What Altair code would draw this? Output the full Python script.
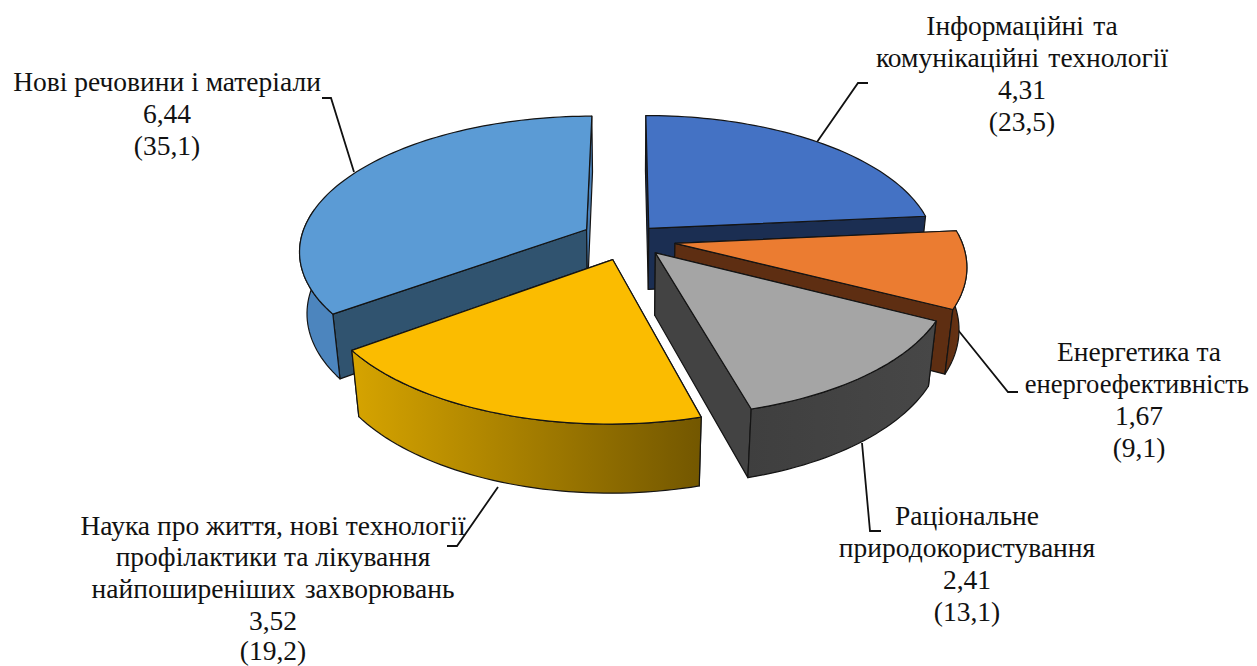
import math
import altair as alt

# ---- chart values ----
names = ["Інформаційні та комунікаційні технології", "Енергетика та енергоефективність",
         "Раціональне природокористування",
         "Наука про життя, нові технології профілактики та лікування найпоширеніших захворювань",
         "Нові речовини і матеріали"]
values = [4.31, 1.67, 2.41, 3.52, 6.44]
percents = ["23,5", "9,1", "13,1", "19,2", "35,1"]

label_lines = [
    ["Інформаційні\u00a0\u200aта", "комунікаційні\u00a0\u200aтехнології", "4,31", "(23,5)"],
    ["Енергетика та", "енергоефективність", "1,67", "(9,1)"],
    ["Раціональне", "природокористування", "2,41", "(13,1)"],
    ["Наука про життя, нові технології", "профілактики та лікування", "найпоширеніших\u00a0\u200aзахворювань", "3,52", "(19,2)"],
    ["Нові речовини і матеріали", "6,44", "(35,1)"],
]
label_cx = [1022, 1139, 967, 273, 167]
label_base = [[35, 67, 99, 131], [361, 393, 425, 457], [525, 557, 589, 621],
              [535, 566, 598, 630, 660], [91, 123, 155]]
leaders = [
    [(817, 142), (858, 83), (868, 83)],
    [(958, 330), (1008, 392), (1018, 392)],
    [(862, 443), (870, 531), (881, 531)],
    [(498, 487), (457, 546), (447, 546)],
    [(354, 172), (331, 98), (322, 98)],
]

# ---- styles ----
top_col = ["#4472C4", "#EB7C31", "#A5A5A5", "#FBBC00", "#5B9BD5"]
start_face = ["#1B2E52", "#5E2E12", "#434343", "#665000", "#30536F"]
end_face = ["#1B2E52", "#5E2E12", "#434343", "#665000", "#4A80B8"]
side_col = [["#1B2E52", "#1B2E52"], ["#5E2E12", "#6A3414"], ["#3F3F3F", "#474747"],
            ["#D6A400", "#735700"], ["#4C85BE", "#4C85BE"]]
explode = [0.12, 0.17, 0.16, 0.16, 0.16]
nudge = [(0, 0), (1, -1), (0, -4), (2, -1), (1, -1)]
paint = [0, 4, 1, 2, 3]
front_from, front_to = math.radians(85), math.radians(280)

CX, CY, A, B, D, K, M = 626, 240, 286, 133, 63, 0.15, 0.023
W, H = 1241, 658
FONT = 27.5
# the longest right-hand line is fitted inside the page's right margin
fitted = {"енергоефективність": (1136.8, 26.6)}


def proj(X, Y, Z, n):
    w = 1 - K * Y - M * Z
    return [CX + A * X / w + n[0] - 8, CY + (B * Y - D * Z) / w + n[1] - 8]


total = sum(values)
stroke = "#141414"
proj_spec = dict(type="identity", scale=1, translate=[0, 0])


def poly(ring, fill):
    ring = ring + [ring[0]]
    feat = {"type": "Feature", "properties": {},
            "geometry": {"type": "Polygon", "coordinates": [ring]}}
    return alt.Chart(alt.Data(values=[feat])).mark_geoshape(
        fill=fill, stroke=stroke, strokeWidth=1.2, strokeJoin="round"
    ).project(**proj_spec)


layers = []
starts = []
acc = 0.0
for v in values:
    starts.append(acc)
    acc += v

for i in paint:
    t0 = starts[i] / total * 2 * math.pi
    t1 = (starts[i] + values[i]) / total * 2 * math.pi
    mid = (t0 + t1) / 2
    ox, oy = explode[i] * math.sin(mid), -explode[i] * math.cos(mid)
    n = nudge[i]
    steps = max(8, int((t1 - t0) / math.radians(1.5)))
    thetas = [t0 + (t1 - t0) * s / steps for s in range(steps + 1)]
    rim = [(ox + math.sin(t), oy - math.cos(t)) for t in thetas]
    top = [proj(x, y, 0, n) for x, y in rim]
    bot = [proj(x, y, -1, n) for x, y in rim]
    a0, a1 = proj(ox, oy, 0, n), proj(ox, oy, -1, n)
    layers.append(poly([a0, top[0], bot[0], a1], start_face[i]))
    layers.append(poly([a0, top[-1], bot[-1], a1], end_face[i]))
    keep = [j for j, t in enumerate(thetas) if front_from <= t <= front_to]
    if len(keep) > 1:
        grad = alt.LinearGradient(
            gradient="linear", x1=0, x2=1, y1=0, y2=0,
            stops=[alt.GradientStop(color=side_col[i][0], offset=0),
                   alt.GradientStop(color=side_col[i][1], offset=1)])
        layers.append(poly([top[j] for j in keep] + [bot[j] for j in keep[::-1]], grad))
    layers.append(poly([a0] + top, top_col[i]))

xs = alt.X("x:Q", scale=alt.Scale(domain=[0, W], range=[0, W]), axis=None)
ys = alt.Y("y:Q", scale=alt.Scale(domain=[0, H], range=[0, H]), axis=None)

line_rows = []
for k, pts in enumerate(leaders):
    for j, (x, y) in enumerate(pts):
        line_rows.append({"x": x - 8, "y": y - 8, "k": k, "j": j})
lines = alt.Chart(alt.Data(values=line_rows)).mark_line(
    color="#111111", strokeWidth=1.8, interpolate="linear"
).encode(x=xs, y=ys, detail="k:N", order="j:O")

text_rows = []
for k, ls in enumerate(label_lines):
    for t, b in zip(ls, label_base[k]):
        cx, fs = fitted.get(t, (label_cx[k], FONT))
        text_rows.append({"x": cx - 8, "y": b - 8, "t": t, "fs": fs})
texts = alt.Chart(alt.Data(values=text_rows)).mark_text(
    font="Liberation Serif", color="#111111", align="center", baseline="alphabetic"
).encode(x=xs, y=ys, text="t:N", size=alt.Size("fs:Q", scale=None, legend=None))

# leader lines sit behind the wedges, labels above everything
chart = alt.layer(lines, *layers, texts).properties(
    width=W, height=H, padding=0, autosize=alt.AutoSizeParams(type="none")
).configure_view(stroke=None).resolve_scale(x="shared", y="shared")

chart.save("out.html", embed_options={"renderer": "svg", "actions": False})
